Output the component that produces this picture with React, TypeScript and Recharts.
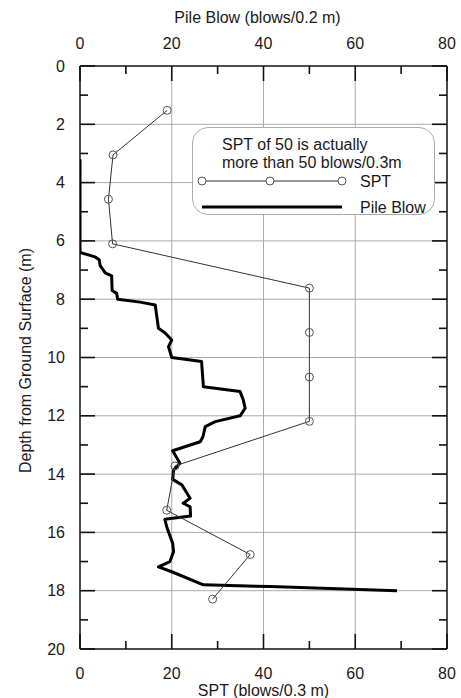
import React from 'react';
import { ScatterChart, Scatter, XAxis, YAxis, CartesianGrid, Legend, Label } from 'recharts';

const FONT = '"Liberation Sans", Arial, Helvetica, sans-serif';
const TEXT = '#1a1a1a';
const AXIS = '#111';

const sptDepth = [1.52, 3.05, 4.57, 6.1, 7.62, 9.14, 10.67, 12.19, 13.72, 15.24, 16.76, 18.29];
const sptBlows = [19, 7.2, 6.2, 7.1, 50, 50, 50, 50, 20.7, 18.9, 37.1, 28.9];

const pileDepth = [
  3.2, 6.4, 6.55, 6.65, 6.85, 7.1, 7.2, 7.7, 7.8, 8.0, 8.1, 8.2, 9.0, 9.15, 9.4, 9.63, 10.0,
  10.14, 11.0, 11.17, 11.46, 11.74, 12.0, 12.2, 12.37, 12.72, 12.89, 13.2, 13.63, 13.86, 14.18,
  14.37, 14.83, 15.0, 15.12, 15.44, 15.55, 15.86, 16.37, 16.66, 17.0, 17.18, 17.35, 17.8, 17.86, 18.0,
];
const pileBlows = [
  0, 0, 3.3, 4.2, 4.4, 5.5, 6.9, 7.0, 8.0, 8.2, 13.1, 16.4, 17.1, 18.5, 20.0, 19.3, 20.0,
  26.5, 26.9, 34.9, 35.6, 36.0, 34.9, 29.5, 27.3, 26.8, 26.2, 20.2, 21.8, 20.4, 20.2,
  22.2, 24.0, 22.5, 24.0, 24.1, 18.5, 19.0, 20.2, 20.4, 19.6, 17.1, 20.0, 26.9, 41.5, 69.1,
];

const xTicks = [0, 10, 20, 30, 40, 50, 60, 70, 80];
const yTicks = [0, 1, 2, 3, 4, 5, 6, 7, 8, 9, 10, 11, 12, 13, 14, 15, 16, 17, 18, 19, 20];
const xGrid = [20, 40, 60];
const yGrid = [2, 4, 6, 8, 10, 12, 14, 16, 18];

const topTitle = 'Pile Blow (blows/0.2 m)';
const bottomTitle = 'SPT (blows/0.3 m)';
const leftTitle = 'Depth from Ground Surface (m)';
const noteLine1 = 'SPT of 50 is actually';
const noteLine2 = 'more than 50 blows/0.3m';

const sptData = sptDepth.map((d, i) => ({ x: sptBlows[i], y: d }));
const pileData = pileDepth.map((d, i) => ({ x: pileBlows[i], y: d }));

type Side = 'top' | 'bottom' | 'left' | 'right';

const makeTick = (side: Side, labelled: boolean) => (props: any) => {
  const x = Number(props.x);
  const y = Number(props.y);
  const v = Number(props.payload.value);
  const vertical = side === 'left' || side === 'right';
  const major = vertical ? v % 2 === 0 : v % 20 === 0;
  const len = major ? 15 : 8;
  let rect: any;
  if (side === 'bottom') rect = { x: x - 0.8, y: y - len, width: 1.6, height: len };
  else if (side === 'top') rect = { x: x - 0.8, y: y, width: 1.6, height: len };
  else if (side === 'left') rect = { x: x, y: y - 0.8, width: len, height: 1.6 };
  else rect = { x: x - len, y: y - 0.8, width: len, height: 1.6 };
  let label = null;
  if (labelled && major) {
    const common = { fontFamily: FONT, fontSize: 16, fill: TEXT, stroke: 'none', dominantBaseline: 'central' as const };
    if (side === 'bottom') label = <text x={x} y={y + 24} textAnchor="middle" {...common}>{v}</text>;
    else if (side === 'top') label = <text x={x} y={y - 23} textAnchor="middle" {...common}>{v}</text>;
    else if (side === 'left') label = <text x={x - 15} y={y} textAnchor="end" {...common}>{v}</text>;
  }
  return (
    <g>
      <rect {...rect} fill={AXIS} stroke="none" />
      {label}
    </g>
  );
};

const titleStyle = { fontFamily: FONT, fontSize: 16, fill: TEXT };

const SptDot = (props: any) => {
  const { cx, cy } = props;
  return <circle cx={cx} cy={cy} r={4} fill="none" stroke="#555" strokeWidth={1} />;
};
const NoDot = () => <g />;

const LegendBox = () => (
  <div
    style={{
      position: 'relative',
      width: 243,
      height: 88,
      boxSizing: 'border-box',
      border: '1px solid #aaa',
      borderRadius: 16,
      background: '#fff',
    }}
  >
    <svg width={243} height={88} style={{ position: 'absolute', left: -1, top: -1 }}>
      <g fontFamily={FONT} fontSize={16} fill={TEXT}>
        <text x={30} y={17} dominantBaseline="central">{noteLine1}</text>
        <text x={30} y={35} dominantBaseline="central">{noteLine2}</text>
        <text x={168} y={54} dominantBaseline="central">SPT</text>
        <text x={168} y={80} dominantBaseline="central">Pile Blow</text>
      </g>
      <line x1={10} y1={54} x2={150} y2={54} stroke="#333" strokeWidth={1} />
      <circle cx={10} cy={54} r={4} fill="#fff" stroke="#555" />
      <circle cx={78} cy={54} r={4} fill="#fff" stroke="#555" />
      <circle cx={150} cy={54} r={4} fill="#fff" stroke="#555" />
      <line x1={10} y1={80} x2={150} y2={80} stroke="#000" strokeWidth={3} />
    </svg>
  </div>
);

export default function App() {
  return (
    <div style={{ position: 'absolute', left: 0, top: 0, width: 461, height: 698, background: '#fff' }}>
      <ScatterChart width={461} height={698} margin={{ top: 0, right: 13, bottom: 0, left: 0 }}>
        <CartesianGrid
          xAxisId="bottom"
          yAxisId="left"
          verticalValues={xGrid}
          horizontalValues={yGrid}
          stroke="#aaa"
          strokeWidth={1}
          strokeDasharray=""
        />
        <XAxis
          xAxisId="bottom"
          orientation="bottom"
          type="number"
          dataKey="x"
          domain={[0, 80]}
          allowDataOverflow
          ticks={xTicks}
          interval={0}
          tickSize={0}
          tickMargin={0}
          tickLine={false}
          height={49}
          axisLine={{ stroke: AXIS, strokeWidth: 1.5 }}
          tick={makeTick('bottom', true)}
        >
          <Label
            content={(p: any) => {
              const vb = p.viewBox || { x: 80, y: 649, width: 367, height: 49 };
              return (
                <text x={vb.x + vb.width / 2} y={vb.y + 41} textAnchor="middle" dominantBaseline="central" {...titleStyle}>
                  {bottomTitle}
                </text>
              );
            }}
          />
        </XAxis>
        <XAxis
          xAxisId="top"
          orientation="top"
          type="number"
          dataKey="x"
          domain={[0, 80]}
          allowDataOverflow
          ticks={xTicks}
          interval={0}
          tickSize={0}
          tickMargin={0}
          tickLine={false}
          height={66}
          axisLine={{ stroke: AXIS, strokeWidth: 1.5 }}
          tick={makeTick('top', true)}
        >
          <Label
            content={(p: any) => {
              const vb = p.viewBox || { x: 80, y: 0, width: 367, height: 66 };
              return (
                <text x={vb.x + vb.width / 2 - 6} y={vb.y + 17} textAnchor="middle" dominantBaseline="central" {...titleStyle}>
                  {topTitle}
                </text>
              );
            }}
          />
        </XAxis>
        <YAxis
          yAxisId="left"
          orientation="left"
          type="number"
          dataKey="y"
          domain={[0, 20]}
          reversed
          allowDataOverflow
          ticks={yTicks}
          interval={0}
          tickSize={0}
          tickMargin={0}
          tickLine={false}
          width={80}
          axisLine={{ stroke: AXIS, strokeWidth: 1.5 }}
          tick={makeTick('left', true)}
        >
          <Label
            content={(p: any) => {
              const vb = p.viewBox || { x: 0, y: 66, width: 80, height: 583 };
              const cx = vb.x + 25;
              const cy = vb.y + vb.height / 2 + 3;
              return (
                <text
                  x={cx}
                  y={cy}
                  textAnchor="middle"
                  dominantBaseline="central"
                  transform={`rotate(-90 ${cx} ${cy})`}
                  {...titleStyle}
                >
                  {leftTitle}
                </text>
              );
            }}
          />
        </YAxis>
        <YAxis
          yAxisId="right"
          orientation="right"
          type="number"
          dataKey="y"
          domain={[0, 20]}
          reversed
          allowDataOverflow
          ticks={yTicks}
          interval={0}
          tickSize={0}
          tickMargin={0}
          tickLine={false}
          width={1}
          axisLine={{ stroke: AXIS, strokeWidth: 1.5 }}
          tick={makeTick('right', false)}
        />
        <Legend
          layout="horizontal"
          verticalAlign="middle"
          align="center"
          width={243}
          wrapperStyle={{ left: 192, top: 127, width: 243, height: 88 }}
          content={() => <LegendBox />}
        />
        <Scatter
          name="Pile Blow"
          data={pileData}
          xAxisId="top"
          yAxisId="left"
          fill="#000"
          line={{ stroke: '#000', strokeWidth: 3, strokeLinejoin: 'round' }}
          lineType="joint"
          shape={NoDot}
          isAnimationActive={false}
        />
        <Scatter
          name="SPT"
          data={sptData}
          xAxisId="bottom"
          yAxisId="left"
          fill="#333"
          line={{ stroke: '#333', strokeWidth: 1 }}
          lineType="joint"
          shape={SptDot}
          isAnimationActive={false}
        />
      </ScatterChart>
    </div>
  );
}
